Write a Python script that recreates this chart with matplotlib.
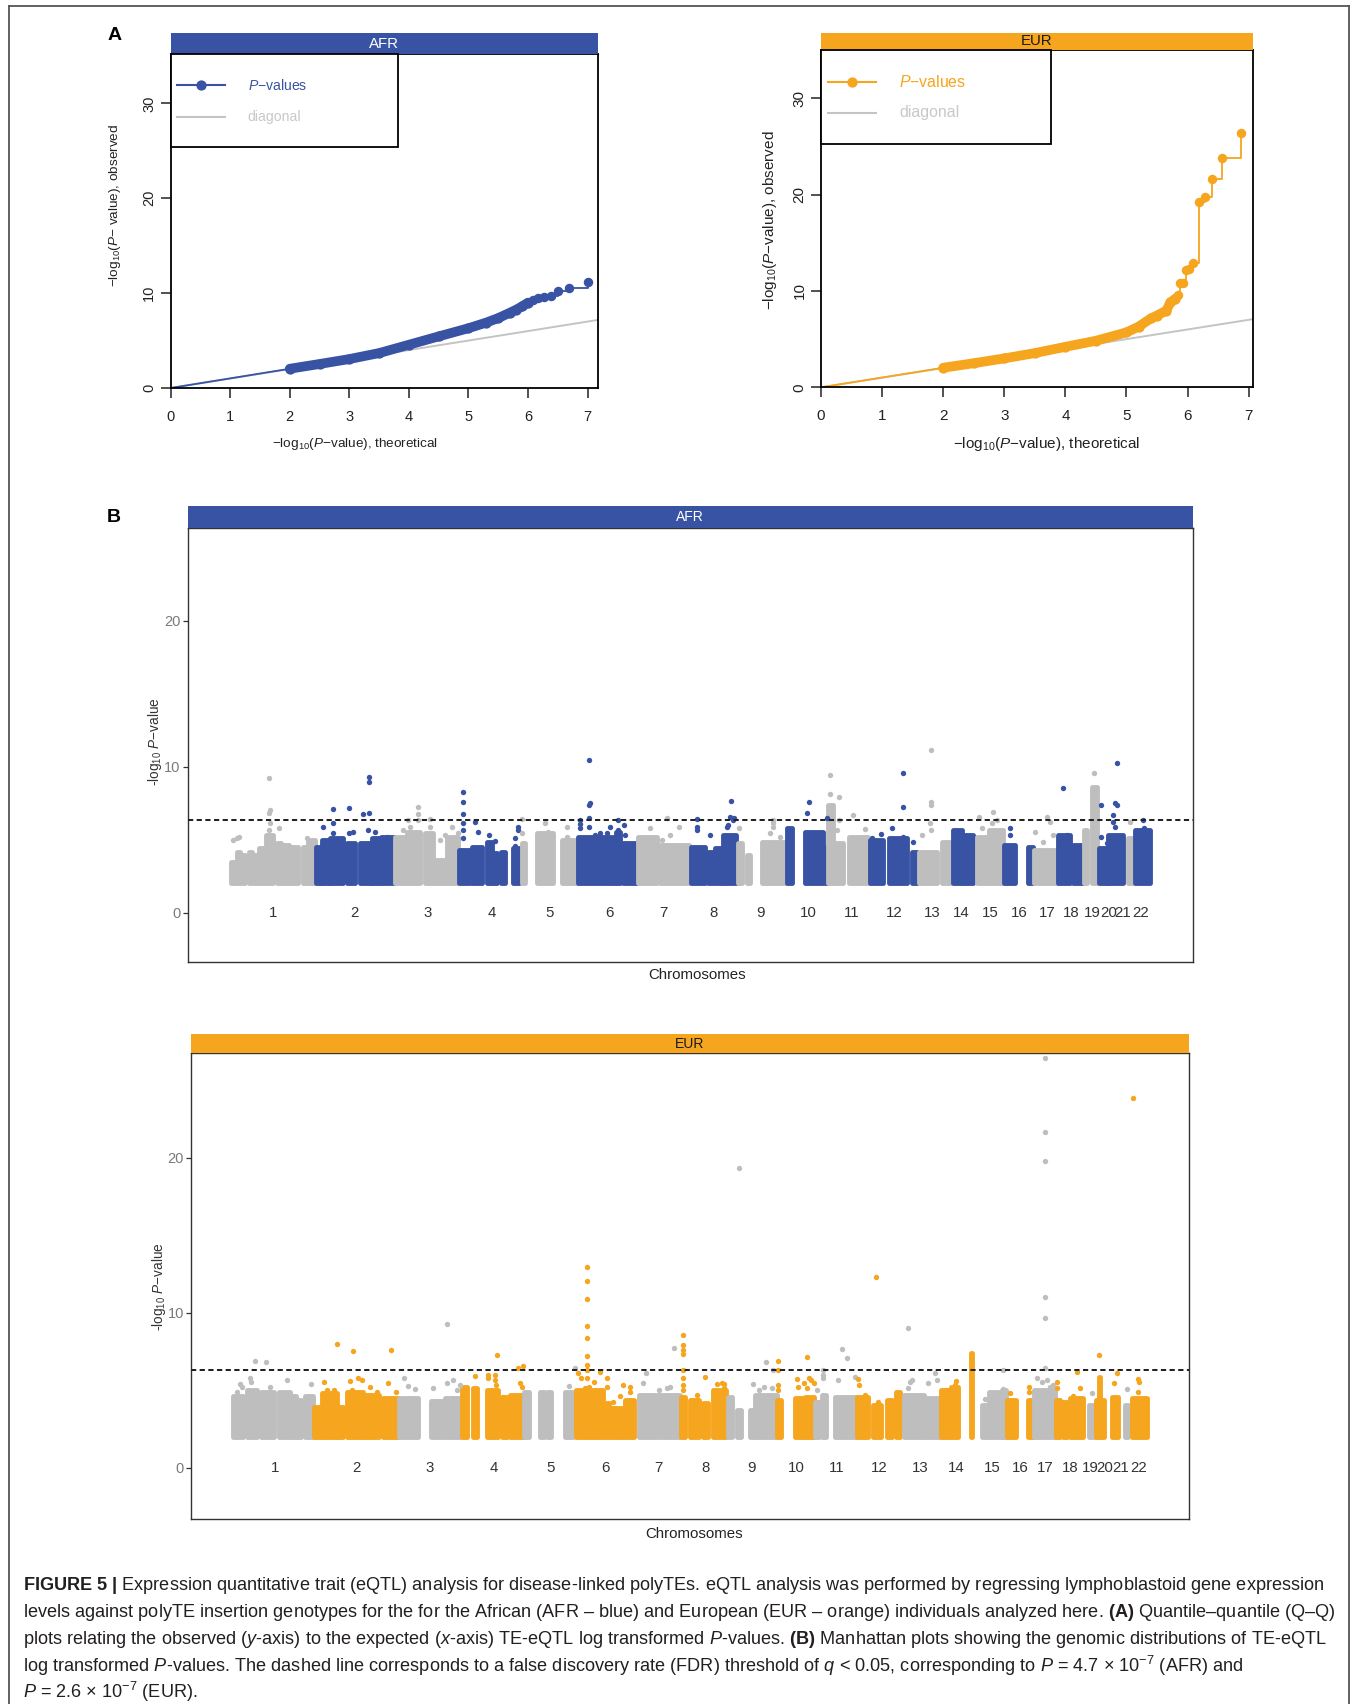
import matplotlib
matplotlib.use("Agg")
import matplotlib.pyplot as plt
from matplotlib.lines import Line2D
from matplotlib.patches import Rectangle

plt.rcParams['font.family'] = ['Liberation Sans', 'DejaVu Sans']
plt.rcParams['mathtext.fontset'] = 'custom'
plt.rcParams['mathtext.rm'] = 'Liberation Sans'
plt.rcParams['mathtext.it'] = 'Liberation Sans:italic'
plt.rcParams['mathtext.bf'] = 'Liberation Sans:bold'
plt.rcParams['mathtext.sf'] = 'Liberation Sans'

# ======================= DATA =======================
chromosomes = [str(i) for i in range(1, 23)]

# Q-Q plots: (theoretical, observed) -log10 P
afr_qq_dense_x = [2.0, 2.5, 3.0, 3.5, 4.0, 4.5, 5.0, 5.3, 5.5, 5.7, 5.8, 5.9, 6.0]
afr_qq_dense_y = [2.03, 2.53, 3.05, 3.68, 4.56, 5.44, 6.3, 6.9, 7.37, 7.95, 8.25, 8.6, 9.0]
afr_qq_tail_x = [6.08, 6.16, 6.26, 6.39, 6.51, 6.69, 7.0]
afr_qq_tail_y = [9.3, 9.47, 9.62, 9.65, 10.25, 10.49, 11.16]

eur_qq_dense_x = [2.0, 2.5, 3.0, 3.5, 4.0, 4.5, 5.0, 5.2, 5.4, 5.5, 5.65, 5.72, 5.8]
eur_qq_dense_y = [2.03, 2.5, 3.0, 3.55, 4.2, 4.83, 5.7, 6.3, 7.15, 7.45, 7.95, 8.8, 9.2]
eur_qq_tail_x = [5.85, 5.87, 5.92, 5.98, 6.03, 6.09, 6.18, 6.28, 6.40, 6.57, 6.88]
eur_qq_tail_y = [9.55, 10.86, 10.86, 12.14, 12.31, 12.93, 19.2, 19.79, 21.59, 23.76, 26.34]

# Manhattan plots: dense clusters (chrom, start Mb, end Mb, top -log10 P), min -log10 P shown = 2
min_logp = 2.0
afr_blocks = [
    (1, -2, 10, 3.5), (1, 16, 26, 4.18), (1, 31, 42, 3.95), (1, 52, 62, 4.18), (1, 68, 78, 3.95),
    (1, 84, 98, 4.41), (1, 104, 124, 5.32), (1, 138, 148, 4.75), (1, 152, 172, 4.64),
    (1, 176, 201, 4.52), (1, 216, 228, 4.52), (1, 231, 250, 4.98),
    (2, 254, 271, 4.52), (2, 271, 296, 4.98), (2, 296, 336, 5.1), (2, 346, 371, 4.75),
    (2, 386, 421, 4.75), (2, 421, 446, 5.1), (2, 448, 488, 5.21),
    (3, 491, 526, 5.21), (3, 526, 566, 5.55), (3, 581, 606, 5.44), (3, 608, 646, 3.61), (3, 646, 679, 5.21),
    (4, 683, 716, 4.3), (4, 721, 751, 4.52), (4, 768, 781, 4.87), (4, 786, 798, 4.07),
    (4, 808, 821, 4.18), (4, 844, 864, 4.41),
    (5, 871, 881, 4.75), (5, 916, 966, 5.44), (5, 991, 1036, 4.98),
    (6, 1041, 1151, 5.21), (6, 1154, 1166, 5.55), (6, 1174, 1216, 4.75),
    (7, 1221, 1276, 5.21), (7, 1286, 1374, 4.64),
    (8, 1378, 1421, 4.52), (8, 1431, 1446, 4.18), (8, 1451, 1471, 4.41), (8, 1476, 1514, 5.32),
    (9, 1519, 1531, 4.75), (9, 1548, 1556, 3.95), (9, 1591, 1604, 4.87), (9, 1606, 1663, 4.87),
    (10, 1668, 1681, 5.78), (10, 1721, 1776, 5.55), (10, 1781, 1786, 4.52),
    (11, 1790, 1804, 7.38), (11, 1806, 1836, 4.75), (11, 1854, 1911, 5.21),
    (12, 1916, 1956, 4.98), (12, 1974, 2026, 5.1), (12, 2041, 2056, 4.18),
    (13, 2064, 2116, 4.18), (13, 2131, 2156, 4.87),
    (14, 2166, 2191, 5.67), (14, 2196, 2226, 5.32),
    (15, 2236, 2271, 5.21), (15, 2273, 2314, 5.67),
    (16, 2318, 2351, 4.64), (16, 2391, 2404, 4.52),
    (17, 2408, 2476, 4.30),
    (18, 2480, 2516, 5.32), (18, 2524, 2554, 4.64),
    (19, 2558, 2568, 5.67), (19, 2583, 2598, 8.63),
    (20, 2604, 2631, 4.41), (20, 2631, 2676, 5.32),
    (21, 2691, 2704, 5.1),
    (22, 2710, 2756, 5.67),
]
# individual insertions above the clusters (chrom, position Mb, -log10 P)
afr_dots = [
    (1, 16, 5.1), (1, 23, 5.21), (1, 4, 4.98), (1, 114, 5.67), (1, 116, 6.12), (1, 114, 6.81),
    (1, 116, 7.0), (1, 114, 9.2), (1, 144, 5.78), (1, 228, 5.1), (1, 221, 4.41),
    (2, 276, 5.89), (2, 304, 6.12), (2, 304, 7.08), (2, 306, 5.44), (2, 354, 5.44), (2, 364, 5.5),
    (2, 352, 7.15), (2, 394, 6.74), (2, 412, 6.81), (2, 412, 8.95), (2, 412, 9.27), (2, 411, 5.67),
    (2, 432, 5.55), (2, 468, 5.21), (2, 476, 5.1), (2, 284, 4.87),
    (3, 559, 7.22), (3, 559, 6.74), (3, 559, 6.35), (3, 531, 6.35), (3, 536, 5.89), (3, 596, 6.4),
    (3, 596, 5.89), (3, 626, 4.98), (3, 641, 5.32), (3, 661, 5.85), (3, 679, 5.44), (3, 516, 5.67),
    (4, 694, 5.67), (4, 694, 6.12), (4, 694, 6.74), (4, 694, 7.61), (4, 694, 8.25), (4, 694, 5.1),
    (4, 731, 6.24), (4, 741, 5.55), (4, 774, 5.32), (4, 791, 4.93), (4, 861, 5.89), (4, 861, 5.67),
    (4, 851, 5.1), (4, 851, 4.57),
    (5, 873, 6.4), (5, 872, 5.44), (5, 941, 6.12), (5, 951, 5.55), (5, 1006, 5.89), (5, 1006, 5.21),
    (6, 1046, 6.35), (6, 1046, 6.07), (6, 1046, 5.78), (6, 1073, 6.47), (6, 1073, 7.38), (6, 1076, 7.49),
    (6, 1073, 10.46), (6, 1073, 5.89), (6, 1106, 5.44), (6, 1126, 5.48), (6, 1136, 5.85), (6, 1160, 6.35),
    (6, 1160, 5.67), (6, 1178, 6.01), (6, 1181, 5.32), (6, 1091, 5.32),
    (7, 1256, 5.78), (7, 1306, 6.47), (7, 1316, 5.32), (7, 1344, 5.89), (7, 1291, 4.98),
    (8, 1396, 5.67), (8, 1396, 5.89), (8, 1396, 6.4), (8, 1436, 5.32), (8, 1486, 5.89), (8, 1496, 6.58),
    (8, 1499, 7.65), (8, 1506, 6.35), (8, 1509, 6.47), (8, 1491, 6.01),
    (9, 1524, 5.78), (9, 1626, 6.35), (9, 1626, 6.12), (9, 1626, 5.89), (9, 1616, 5.44), (9, 1646, 5.21),
    (9, 1608, 4.52),
    (10, 1728, 6.85), (10, 1733, 7.61), (10, 1761, 5.25), (10, 1786, 6.51), (10, 1676, 5.67),
    (11, 1796, 8.13), (11, 1796, 9.43), (11, 1823, 7.9), (11, 1823, 6.35), (11, 1866, 6.69),
    (11, 1901, 5.71), (11, 1816, 5.67),
    (12, 1921, 5.1), (12, 1949, 5.39), (12, 1981, 5.78), (12, 2016, 7.26), (12, 2016, 9.55),
    (12, 2016, 5.21), (12, 2046, 4.87),
    (13, 2071, 5.32), (13, 2096, 6.12), (13, 2098, 7.38), (13, 2098, 7.61), (13, 2098, 11.15), (13, 2098, 5.67),
    (14, 2216, 4.98),
    (15, 2286, 6.92), (15, 2244, 6.58), (15, 2281, 6.12), (15, 2296, 6.35), (15, 2251, 5.78),
    (16, 2336, 5.78), (16, 2336, 5.32),
    (17, 2446, 6.58), (17, 2456, 6.24), (17, 2412, 5.55), (17, 2466, 5.32), (17, 2436, 4.87),
    (18, 2486, 4.98), (18, 2496, 8.52), (18, 2506, 5.32),
    (19, 2589, 9.59),
    (20, 2608, 5.16), (20, 2608, 7.38), (20, 2651, 7.49), (20, 2656, 7.38), (20, 2658, 10.23),
    (20, 2646, 6.69), (20, 2646, 6.24), (20, 2651, 5.89), (20, 2626, 4.75), (20, 2668, 5.1),
    (21, 2696, 6.24),
    (22, 2736, 6.35), (22, 2714, 5.48), (22, 2738, 5.78), (22, 2746, 5.44),
]
afr_chr_mid = [125, 370, 587, 780, 955, 1135, 1296, 1447, 1586, 1730, 1860, 1990, 2103, 2191,
               2276, 2364, 2447, 2520, 2583, 2632, 2675, 2727]
afr_threshold = 6.33   # -log10(4.7e-7)

eur_blocks = [
    (1, -4, 24, 4.6), (1, 38, 69, 5.0), (1, 80, 119, 4.9), (1, 135, 167, 4.9), (1, 169, 186, 4.6),
    (1, 188, 202, 4.4), (1, 213, 236, 4.6),
    (2, 240, 263, 3.9), (2, 265, 309, 4.8), (2, 309, 327, 3.9), (2, 341, 389, 4.9), (2, 389, 435, 4.7),
    (2, 448, 495, 4.5),
    (3, 497, 555, 4.5), (3, 593, 631, 4.3), (3, 636, 680, 4.5),
    (4, 687, 702, 5.23), (4, 722, 734, 5.12), (4, 762, 777, 5.01), (4, 782, 797, 5.01),
    (4, 807, 823, 4.58), (4, 833, 851, 4.69), (4, 858, 871, 4.69),
    (5, 875, 890, 4.9), (5, 923, 935, 4.9), (5, 943, 956, 4.9), (5, 999, 1024, 4.9),
    (6, 1032, 1115, 5.01), (6, 1120, 1133, 4.15), (6, 1137, 1175, 3.83), (6, 1180, 1206, 4.37),
    (7, 1221, 1271, 4.7), (7, 1276, 1288, 4.7), (7, 1294, 1345, 4.7),
    (8, 1348, 1362, 4.58), (8, 1377, 1405, 4.37), (8, 1417, 1432, 4.15), (8, 1447, 1486, 5.0),
    (9, 1490, 1503, 4.58), (9, 1520, 1530, 3.72), (9, 1558, 1574, 3.72), (9, 1574, 1639, 4.7),
    (10, 1641, 1651, 4.37), (10, 1694, 1725, 4.48), (10, 1725, 1752, 4.58),
    (11, 1755, 1768, 4.26), (11, 1777, 1788, 4.69), (11, 1815, 1881, 4.58),
    (12, 1883, 1916, 4.58), (12, 1931, 1953, 4.05), (12, 1973, 1987, 4.37), (12, 1999, 2013, 4.91),
    (13, 2024, 2083, 4.7), (13, 2083, 2131, 4.5),
    (14, 2135, 2163, 5.01), (14, 2165, 2188, 5.23), (14, 2227, 2229, 7.38),
    (15, 2259, 2277, 4.05), (15, 2282, 2319, 4.91), (15, 2319, 2332, 5.01),
    (16, 2336, 2363, 4.37), (16, 2398, 2413, 4.37),
    (17, 2416, 2480, 5.0),
    (18, 2482, 2495, 4.37), (18, 2504, 2516, 4.26), (18, 2526, 2566, 4.48),
    (19, 2584, 2601, 4.05),
    (20, 2603, 2627, 4.37), (20, 2613, 2615, 5.87), (20, 2652, 2672, 4.58),
    (21, 2692, 2702, 4.05),
    (22, 2712, 2758, 4.48),
]
eur_dots = [
    (1, 62, 6.88), (1, 95, 6.84), (1, 16, 5.4), (1, 46, 5.77), (1, 157, 5.66), (1, 6, 4.91),
    (1, 107, 5.23), (1, 230, 5.38), (1, 22, 5.2), (1, 50, 5.5),
    (2, 309, 7.96), (2, 359, 7.53), (2, 473, 7.57), (2, 271, 5.55), (2, 349, 5.62), (2, 374, 5.77),
    (2, 384, 5.66), (2, 409, 5.23), (2, 429, 4.91), (2, 465, 5.49), (2, 488, 4.91), (2, 354, 5.01),
    (2, 300, 5.0), (2, 280, 5.0),
    (3, 513, 5.81), (3, 525, 5.29), (3, 545, 5.06), (3, 643, 9.25), (3, 641, 5.49), (3, 661, 5.66),
    (3, 601, 5.16), (3, 671, 5.01), (3, 680, 5.34),
    (4, 727, 5.92), (4, 792, 7.27), (4, 767, 5.98), (4, 767, 5.77), (4, 787, 5.98), (4, 787, 5.66),
    (4, 790, 5.34), (4, 812, 4.58), (4, 858, 6.45), (4, 871, 6.56), (4, 863, 5.44), (4, 868, 5.23),
    (5, 1028, 6.45), (5, 1010, 5.3),
    (6, 1064, 12.97), (6, 1064, 12.07), (6, 1064, 10.87), (6, 1064, 9.15), (6, 1064, 8.35),
    (6, 1064, 7.21), (6, 1064, 6.63), (6, 1064, 6.31), (6, 1064, 5.77), (6, 1039, 6.09),
    (6, 1046, 5.77), (6, 1105, 6.2), (6, 1125, 5.77), (6, 1087, 5.55), (6, 1070, 5.23),
    (6, 1059, 5.12), (6, 1125, 5.23), (6, 1173, 5.34), (6, 1194, 5.19), (6, 1145, 4.26),
    (6, 1165, 4.63), (6, 1194, 4.91),
    (7, 1244, 6.09), (7, 1236, 5.49), (7, 1327, 7.7), (7, 1317, 5.23), (7, 1306, 5.12), (7, 1284, 5.01),
    (8, 1355, 8.56), (8, 1355, 7.9), (8, 1355, 7.6), (8, 1355, 7.35), (8, 1355, 6.3), (8, 1355, 5.77),
    (8, 1355, 5.34), (8, 1355, 5.01), (8, 1422, 5.83), (8, 1457, 5.38), (8, 1473, 5.44),
    (8, 1480, 5.38), (8, 1478, 5.12), (8, 1397, 4.69),
    (9, 1525, 19.34), (9, 1607, 6.8), (9, 1627, 6.3), (9, 1566, 5.38), (9, 1599, 5.23),
    (9, 1584, 5.01), (9, 1624, 5.12),
    (10, 1644, 6.91), (10, 1644, 6.3), (10, 1644, 5.34), (10, 1644, 5.01), (10, 1701, 5.7),
    (10, 1704, 5.23), (10, 1731, 7.16), (10, 1735, 5.77), (10, 1742, 5.66), (10, 1750, 5.49),
    (10, 1720, 5.44), (10, 1730, 5.12),
    (11, 1780, 6.3), (11, 1780, 5.98), (11, 1780, 5.77), (11, 1835, 7.63), (11, 1851, 7.06),
    (11, 1823, 5.66), (11, 1876, 5.83), (11, 1760, 5.01),
    (12, 1938, 12.28), (12, 1886, 5.7), (12, 1889, 5.34), (12, 1906, 4.69), (12, 1946, 4.26),
    (13, 2037, 9.03), (13, 2047, 5.66), (13, 2042, 5.55), (13, 2097, 5.44), (13, 2118, 6.09),
    (13, 2123, 5.66), (13, 2037, 5.12),
    (14, 2178, 5.34), (14, 2151, 5.01), (14, 2180, 5.6),
    (15, 2324, 6.3), (15, 2269, 4.41), (15, 2322, 5.06),
    (16, 2344, 4.8), (16, 2403, 5.23), (16, 2403, 4.91),
    (17, 2450, 26.45), (17, 2450, 21.66), (17, 2450, 19.78), (17, 2450, 11.02), (17, 2450, 9.67),
    (17, 2425, 5.77), (17, 2450, 6.41), (17, 2465, 5.23), (17, 2475, 5.34), (17, 2455, 5.66),
    (17, 2440, 5.55),
    (18, 2485, 5.12), (18, 2548, 6.2), (18, 2556, 5.12), (18, 2536, 4.63), (18, 2485, 5.5),
    (19, 2591, 4.8),
    (20, 2614, 7.27), (20, 2659, 5.44), (20, 2669, 6.13),
    (21, 2697, 5.06),
    (22, 2717, 23.83), (22, 2732, 5.7), (22, 2735, 5.55), (22, 2732, 4.91),
]
eur_chr_mid = [122, 369, 589, 782, 956, 1120, 1281, 1422, 1563, 1697, 1820, 1949, 2072, 2183,
               2289, 2374, 2450, 2526, 2586, 2631, 2677, 2732]
eur_threshold = 6.33

caption_lines = [
    r"$\mathbf{FIGURE\ 5\ |}$ Expression quantitative trait (eQTL) analysis for disease-linked polyTEs. eQTL analysis was performed by regressing lymphoblastoid gene expression",
    r"levels against polyTE insertion genotypes for the for the African (AFR – blue) and European (EUR – orange) individuals analyzed here. $\mathbf{(A)}$ Quantile–quantile (Q–Q)",
    r"plots relating the observed ($y$-axis) to the expected ($x$-axis) TE-eQTL log transformed $P$-values. $\mathbf{(B)}$ Manhattan plots showing the genomic distributions of TE-eQTL",
    r"log transformed $P$-values. The dashed line corresponds to a false discovery rate (FDR) threshold of $q$ < 0.05, corresponding to $P$ = 4.7 × 10$^{-7}$ (AFR) and",
    r"$P$ = 2.6 × 10$^{-7}$ (EUR).",
]

# ======================= STYLE / LAYOUT =======================
BLUE = '#3953A4'
ORANGE = '#F6A51E'
GRAY = '#BEBEBE'
DIAG = '#C4C4C4'

W, H = 1360, 1704
DPI = 100
fig = plt.figure(figsize=(W / DPI, H / DPI), dpi=DPI)
fig.patch.set_facecolor('white')


def fx(x):
    return x / W


def fy(y):
    return 1 - y / H


def add_axes_px(x0, y0, x1, y1, **kw):
    return fig.add_axes([fx(x0), fy(y1), (x1 - x0) / W, (y1 - y0) / H], **kw)


def ftext(x, y, s, **kw):
    return fig.text(fx(x), fy(y), s, **kw)


# figure frame
for (xa, ya, xb, yb) in [(8.5, 5.5, 1349, 5.5), (8.5, 5.5, 8.5, H + 5), (1349, 5.5, 1349, H + 5)]:
    fig.add_artist(Line2D([fx(xa), fx(xb)], [fy(ya), fy(yb)], color='#555555', lw=1.3))

ftext(115, 35, 'A', fontsize=14, fontweight='bold', ha='center', va='center')
ftext(114, 517, 'B', fontsize=14, fontweight='bold', ha='center', va='center')


def strip(x0, y0, x1, y1, color, label, tcolor, fs):
    sa = add_axes_px(x0, y0, x1, y1)
    sa.set_facecolor(color)
    sa.set_xticks([]); sa.set_yticks([])
    for s in sa.spines.values():
        s.set_visible(False)
    sa.text(0.5, 0.5, label, transform=sa.transAxes, ha='center', va='center',
            color=tcolor, fontsize=fs)


def qq_panel(box, strip_box, color, name, tcolor, dx, dy, tx, ty, xmax, ymax,
             fs_tick, fs_lab, xlab_pos, ylab_pos, ylab, leg_box, leg_y, leg_x):
    ax = add_axes_px(*box)
    ax.set_xlim(0, xmax)
    ax.set_ylim(0, ymax)
    ax.axline((0, 0), slope=1, color=DIAG, lw=1.4, zorder=1)
    ax.plot([0, dx[0]], [0, dy[0]], color=color, lw=1.3, zorder=2)
    ax.plot(dx, dy, color=color, lw=7.0, solid_capstyle='round', solid_joinstyle='round', zorder=3)
    ax.plot(dx, dy, 'o', color=color, ms=6.4, zorder=3)
    ax.plot([dx[-1]] + tx, [dy[-1]] + ty, color=color, lw=1.3, drawstyle='steps-post', zorder=3)
    ax.plot(tx, ty, 'o', color=color, ms=5.8, zorder=4)
    ax.set_xticks(range(0, 8))
    ax.set_yticks([0, 10, 20, 30])
    for s in ax.spines.values():
        s.set_linewidth(1.3)
        s.set_color('black')
    ax.tick_params(direction='out', length=7.5, width=1.1, labelsize=fs_tick, colors='#222222')
    ax.tick_params(axis='x', pad=8)
    ax.tick_params(axis='y', pad=3, labelrotation=90)
    for lab in ax.get_yticklabels():
        lab.set_va('center')
    ftext(*xlab_pos, r"−log$_{10}$($P$−value), theoretical", fontsize=fs_lab,
          ha='center', va='center', color='#222222')
    ftext(*ylab_pos, ylab, fontsize=fs_lab, ha='center', va='center', rotation=90,
          color='#222222')
    strip(*strip_box, color, name, tcolor, 10.8)
    # legend
    lx0, ly0, lx1, ly1 = leg_box
    fig.add_artist(Rectangle((fx(lx0), fy(ly1)), (lx1 - lx0) / W, (ly1 - ly0) / H,
                             transform=fig.transFigure, fill=True, facecolor='white',
                             edgecolor='black', lw=1.3, zorder=5))
    ha0, ha1, htx = leg_x
    fig.add_artist(Line2D([fx(ha0), fx(ha1)], [fy(leg_y[0])] * 2, color=color, lw=1.5, zorder=6))
    fig.add_artist(Line2D([fx((ha0 + ha1) / 2)], [fy(leg_y[0])], color=color, marker='o',
                          ms=6.4, lw=0, zorder=6))
    fig.add_artist(Line2D([fx(ha0), fx(ha1)], [fy(leg_y[1])] * 2, color=DIAG, lw=1.5, zorder=6))
    ftext(htx, leg_y[0], r"$P$−values", color=color, fontsize=fs_lab + 0.4, ha='left',
          va='center', zorder=7)
    ftext(htx, leg_y[1], "diagonal", color='#C8C8C8', fontsize=fs_lab + 0.4, ha='left',
          va='center', zorder=7)
    return ax


qq_panel((170.7, 54, 597.7, 388), (170.7, 33.3, 597.7, 54), BLUE, 'AFR', 'white',
         afr_qq_dense_x, afr_qq_dense_y, afr_qq_tail_x, afr_qq_tail_y, 7.17, 35.2,
         10.5, 9.7, (355, 444), (115, 205), r"−log$_{10}$($P$− value), observed",
         (170.7, 54, 398.3, 147.3), (85.3, 116.7), (177, 225, 247.7))
qq_panel((821.1, 50, 1252.9, 387.3), (821.1, 32.7, 1252.9, 50), ORANGE, 'EUR', '#1a1a1a',
         eur_qq_dense_x, eur_qq_dense_y, eur_qq_tail_x, eur_qq_tail_y, 7.07, 35.0,
         11.0, 11.0, (1047, 444), (770.4, 220), r"−log$_{10}$($P$−value), observed",
         (821.1, 50, 1051, 144), (82, 112.7), (828, 876, 899))


def manhattan(box, strip_box, color, name, tcolor, blocks, dots, mids, thr, ylim, ylab_pos, xlab_pos):
    ax = add_axes_px(*box)
    ax.set_xlim(-132, 2884)
    ax.set_ylim(*ylim)
    for chrom in range(1, 23):
        c = GRAY if chrom % 2 == 1 else color
        b = [t for t in blocks if t[0] == chrom]
        if b:
            ax.bar([t[1] for t in b], [t[3] - min_logp for t in b],
                   width=[max(t[2] - t[1], 1) for t in b], bottom=min_logp, align='edge',
                   color=c, edgecolor=c, linewidth=3.5, joinstyle='round', zorder=2)
        d = [t for t in dots if t[0] == chrom]
        if d:
            ax.scatter([t[1] for t in d], [t[2] for t in d], s=15, color=c,
                       linewidths=0, zorder=3)
        ax.text(mids[chrom - 1], 0, chromosomes[chrom - 1], ha='center', va='center',
                fontsize=10.8, color='#333333')
    ax.axhline(thr, color='#222222', lw=1.45, ls=(0, (2.6, 1.7)), zorder=4)
    ax.set_xticks([])
    ax.set_yticks([0, 10, 20])
    ax.tick_params(axis='y', direction='out', length=3.5, width=0.9, color='#333333',
                   labelcolor='#7a7a7a', labelsize=10.5, pad=1.5)
    for s in ax.spines.values():
        s.set_linewidth(1.0)
        s.set_color('#333333')
    strip(*strip_box, color, name, tcolor, 10.0)
    ftext(*ylab_pos, r"-log$_{10}$ $P$−value", fontsize=9.8, rotation=90, ha='center',
          va='center', color='#333333')
    ftext(*xlab_pos, "Chromosomes", fontsize=10.8, ha='center', va='center', color='#222222')
    return ax


manhattan((187.5, 528.3, 1192.7, 961.7), (187.5, 506, 1192.7, 528.3), BLUE, 'AFR', 'white',
          afr_blocks, afr_dots, afr_chr_mid, afr_threshold, (-3.36, 26.33),
          (155.5, 742), (697, 975))
manhattan((191, 1053.3, 1188.6, 1519.3), (191, 1034, 1188.6, 1053.3), ORANGE, 'EUR', '#1a1a1a',
          eur_blocks, eur_dots, eur_chr_mid, eur_threshold, (-3.33, 26.74),
          (159, 1287), (694, 1534))

cap_y = [1583, 1609.5, 1636, 1662.5, 1689]
for line, yy in zip(caption_lines, cap_y):
    ftext(23, yy, line, fontsize=13.1, ha='left', va='center_baseline', color='#231F20')

fig.savefig('out.png', dpi=DPI)
